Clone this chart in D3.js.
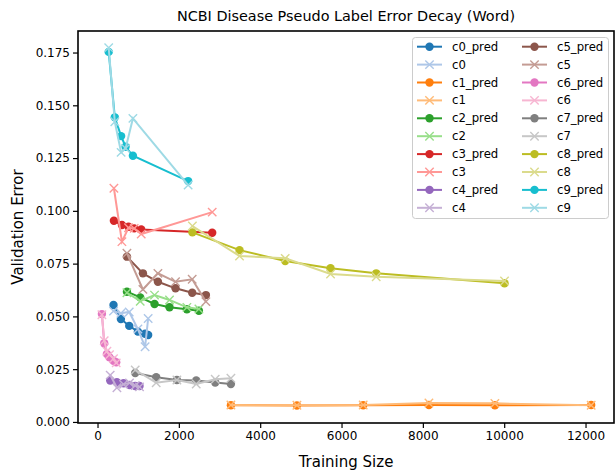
<!DOCTYPE html>
<html>
<head>
<meta charset="utf-8">
<script src="https://cdn.jsdelivr.net/npm/d3@7"></script>
<style>
  body { margin: 0; background: #fff; }
  text { font-family: "DejaVu Sans", sans-serif; fill: #000; }
</style>
</head>
<body>
<div id="chart"></div>
<script>
// Training sizes per class (x), predicted error and observed error (y)
const c0Sizes = [393, 575, 780, 993, 1170, 1245];
const c0Pred  = [0.0554, 0.0488, 0.0455, 0.0428, 0.0418, 0.0412];
const c0True  = [0.0525, 0.0515, 0.0521, 0.0440, 0.0356, 0.0490];

const c1Sizes = [3280, 4903, 6533, 8149, 9771, 12139];
const c1Pred  = [0.0079, 0.0078, 0.0079, 0.0080, 0.0079, 0.0080];
const c1True  = [0.0080, 0.0079, 0.0080, 0.0090, 0.0088, 0.0079];

const c2Sizes = [723, 1050, 1402, 1770, 2198, 2493];
const c2Pred  = [0.0617, 0.0590, 0.0559, 0.0543, 0.0534, 0.0527];
const c2True  = [0.0612, 0.0572, 0.0601, 0.0578, 0.0543, 0.0535];

const c3Sizes = [403, 600, 762, 902, 1075, 2820];
const c3Pred  = [0.0953, 0.0933, 0.0925, 0.0917, 0.0912, 0.0896];
const c3True  = [0.1107, 0.0854, 0.0920, 0.0917, 0.0890, 0.0994];

const c4Sizes = [312, 477, 640, 787, 927, 1033];
const c4Pred  = [0.0196, 0.0188, 0.0183, 0.0175, 0.0170, 0.0170];
const c4True  = [0.0222, 0.0162, 0.0178, 0.0185, 0.0172, 0.0166];

const c5Sizes = [723, 1116, 1485, 1918, 2328, 2665];
const c5Pred  = [0.0783, 0.0704, 0.0664, 0.0633, 0.0612, 0.0601];
const c5True  = [0.0799, 0.0628, 0.0704, 0.0664, 0.0676, 0.0570];

const c6Sizes = [108, 165, 231, 295, 393, 460];
const c6Pred  = [0.0511, 0.0373, 0.0322, 0.0306, 0.0290, 0.0283];
const c6True  = [0.0508, 0.0385, 0.0335, 0.0318, 0.0300, 0.0280];

const c7Sizes = [927, 1443, 1952, 2427, 2894, 3280];
const c7Pred  = [0.0232, 0.0212, 0.0199, 0.0196, 0.0187, 0.0180];
const c7True  = [0.0246, 0.0186, 0.0199, 0.0180, 0.0202, 0.0207];

const c8Sizes = [2333, 3492, 4615, 5730, 6853, 10008];
const c8Pred  = [0.0898, 0.0814, 0.0762, 0.0728, 0.0704, 0.0657];
const c8True  = [0.0928, 0.0786, 0.0775, 0.0701, 0.0688, 0.0668];

const c9Sizes = [275, 425, 580, 690, 870, 2228];
const c9Pred  = [0.1753, 0.1443, 0.1354, 0.1304, 0.1261, 0.1141];
const c9True  = [0.1773, 0.1422, 0.1277, 0.1296, 0.1438, 0.1122];

const classNames = ["c0", "c1", "c2", "c3", "c4", "c5", "c6", "c7", "c8", "c9"];
const allSizes = [c0Sizes, c1Sizes, c2Sizes, c3Sizes, c4Sizes, c5Sizes, c6Sizes, c7Sizes, c8Sizes, c9Sizes];
const allPred = [c0Pred, c1Pred, c2Pred, c3Pred, c4Pred, c5Pred, c6Pred, c7Pred, c8Pred, c9Pred];
const allTrue = [c0True, c1True, c2True, c3True, c4True, c5True, c6True, c7True, c8True, c9True];

const xTicks = [0, 2000, 4000, 6000, 8000, 10000, 12000];
const yTicks = [0, 0.025, 0.05, 0.075, 0.1, 0.125, 0.15, 0.175];

// tab20 pairs: dark for prediction, light for observed
const colors = [
  "#1f77b4", "#aec7e8", "#ff7f0e", "#ffbb78", "#2ca02c", "#98df8a",
  "#d62728", "#ff9896", "#9467bd", "#c5b0d5", "#8c564b", "#c49c94",
  "#e377c2", "#f7b6d2", "#7f7f7f", "#c7c7c7", "#bcbd22", "#dbdb8d",
  "#17becf", "#9edae5"
];

// build series list in plotting order: c0_pred, c0, c1_pred, c1, ...
let series = [];
classNames.forEach((name, i) => {
  series.push({ label: name + "_pred", marker: "o", color: colors[2 * i],
    points: allSizes[i].map((s, j) => ({ x: s, y: allPred[i][j] })) });
  series.push({ label: name, marker: "x", color: colors[2 * i + 1],
    points: allSizes[i].map((s, j) => ({ x: s, y: allTrue[i][j] })) });
});

const W = 616, H = 470;
const margin = { left: 78, right: 614, top: 31, bottom: 423 };

const svg = d3.select("#chart").append("svg")
  .attr("width", W)
  .attr("height", H);

const x = d3.scaleLinear().domain([-480, 12700]).range([margin.left, margin.right]);
const y = d3.scaleLinear().domain([-0.0005, 0.1852]).range([margin.bottom, margin.top]);

// Axes
svg.append("g")
  .attr("transform", `translate(0,${margin.bottom})`)
  .call(d3.axisBottom(x).tickValues(xTicks).tickFormat(d3.format("d")).tickSize(5).tickPadding(3))
  .call(g => g.select(".domain").remove())
  .call(g => g.selectAll("line").attr("stroke-width", 1.2))
  .call(g => g.selectAll("text").style("font-size", "12px").attr("fill", "#000"));

svg.append("g")
  .attr("transform", `translate(${margin.left},0)`)
  .call(d3.axisLeft(y).tickValues(yTicks).tickFormat(d3.format(".3f")).tickSize(5).tickPadding(3))
  .call(g => g.select(".domain").remove())
  .call(g => g.selectAll("line").attr("stroke-width", 1.2))
  .call(g => g.selectAll("text").style("font-size", "12px").attr("fill", "#000"));

// Lines and markers
const line = d3.line().x(d => x(d.x)).y(d => y(d.y));

series.forEach(s => {
  const g = svg.append("g");
  g.append("path")
    .datum(s.points)
    .attr("d", line)
    .attr("fill", "none")
    .attr("stroke", s.color)
    .attr("stroke-width", 2);
  if (s.marker === "o") {
    g.selectAll("circle")
      .data(s.points)
      .enter().append("circle")
      .attr("cx", d => x(d.x))
      .attr("cy", d => y(d.y))
      .attr("r", 4.2)
      .attr("fill", s.color);
  } else {
    g.selectAll("path.mk")
      .data(s.points)
      .enter().append("path")
      .attr("class", "mk")
      .attr("d", d => {
        const cx = x(d.x), cy = y(d.y), r = 4.2;
        return `M${cx - r},${cy - r}L${cx + r},${cy + r}M${cx - r},${cy + r}L${cx + r},${cy - r}`;
      })
      .attr("stroke", s.color)
      .attr("stroke-width", 1.4)
      .attr("fill", "none");
  }
});

// Frame
svg.append("rect")
  .attr("x", margin.left)
  .attr("y", margin.top)
  .attr("width", margin.right - margin.left)
  .attr("height", margin.bottom - margin.top)
  .attr("fill", "none")
  .attr("stroke", "#000")
  .attr("stroke-width", 1.6);

// Title and axis labels
svg.append("text")
  .attr("x", (margin.left + margin.right) / 2)
  .attr("y", 21)
  .attr("text-anchor", "middle")
  .style("font-size", "14.4px")
  .text("NCBI Disease Pseudo Label Error Decay (Word)");

svg.append("text")
  .attr("x", (margin.left + margin.right) / 2)
  .attr("y", 467)
  .attr("text-anchor", "middle")
  .style("font-size", "15px")
  .text("Training Size");

svg.append("text")
  .attr("transform", `translate(23,${(margin.top + margin.bottom) / 2}) rotate(-90)`)
  .attr("text-anchor", "middle")
  .style("font-size", "15px")
  .text("Validation Error");

// Legend
const legend = svg.append("g");
legend.append("rect")
  .attr("x", 412.5)
  .attr("y", 37.5)
  .attr("width", 196)
  .attr("height", 181)
  .attr("rx", 3)
  .attr("fill", "#fff")
  .attr("fill-opacity", 0.8)
  .attr("stroke", "#ccc");

series.forEach((s, i) => {
  const col = i < 10 ? 0 : 1;
  const row = i % 10;
  const lx = col === 0 ? 417 : 522;
  const ly = 46.7 + row * 17.9;
  const item = legend.append("g");
  item.append("line")
    .attr("x1", lx).attr("x2", lx + 25)
    .attr("y1", ly).attr("y2", ly)
    .attr("stroke", s.color)
    .attr("stroke-width", 2);
  const mx = lx + 12.5;
  if (s.marker === "o") {
    item.append("circle").attr("cx", mx).attr("cy", ly).attr("r", 4.2).attr("fill", s.color);
  } else {
    item.append("path")
      .attr("d", `M${mx - 4.2},${ly - 4.2}L${mx + 4.2},${ly + 4.2}M${mx - 4.2},${ly + 4.2}L${mx + 4.2},${ly - 4.2}`)
      .attr("stroke", s.color)
      .attr("stroke-width", 1.4);
  }
  item.append("text")
    .attr("x", lx + 35)
    .attr("y", ly)
    .attr("dy", "0.35em")
    .style("font-size", "11.7px")
    .text(s.label);
});
</script>
</body>
</html>
